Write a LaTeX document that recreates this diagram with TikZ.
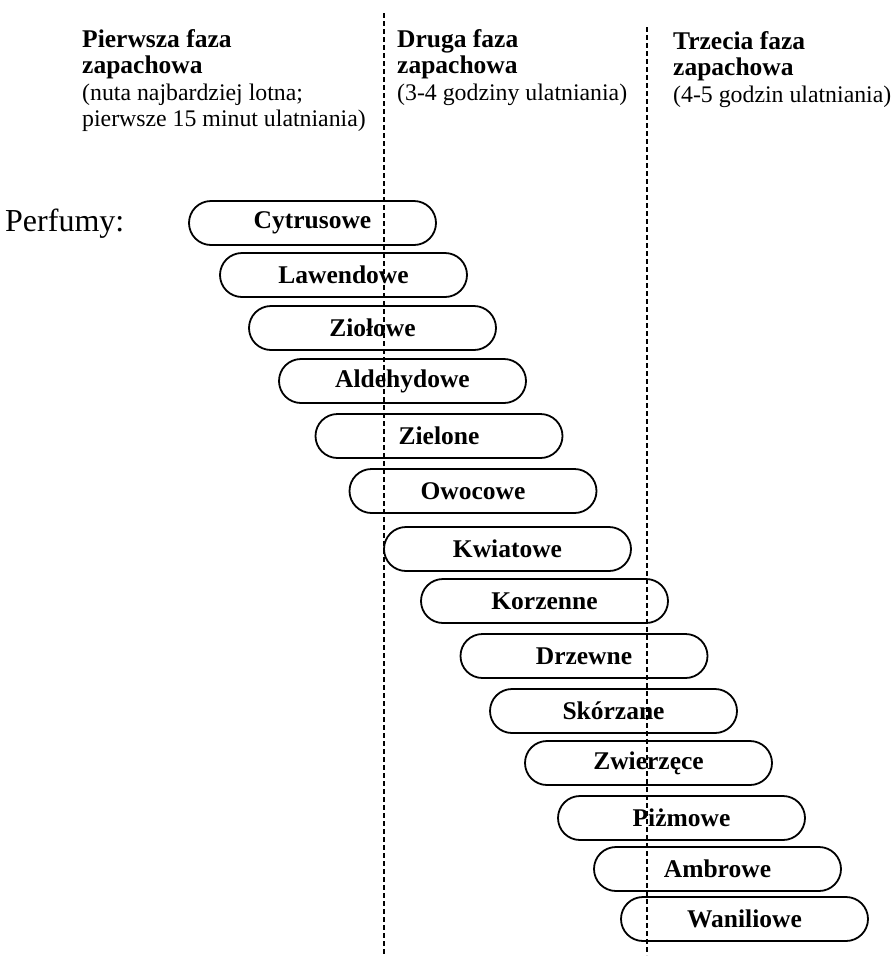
\documentclass[tikz,border=0pt]{standalone}
\usepackage{fontspec}
\setmainfont{Liberation Serif}
\usetikzlibrary{positioning}
\newcommand{\phasetitle}[1]{{\fontsize{25.5}{26.5}\selectfont\bfseries #1}}
\tikzset{
pill/.style={draw, line width=1.8pt, rounded corners=22pt, minimum width=247pt, minimum height=44pt, inner sep=0pt, font=\fontsize{25.5}{27}\selectfont\bfseries}, % the perfume bars
phase/.style={align=left, anchor=north west, inner sep=0pt, font=\fontsize{23.8}{26.5}\selectfont}, % the column headings
border/.style={line width=1.4pt, dash pattern=on 5pt off 3pt}, % the dashed phase borders
}
\begin{document}
\begin{tikzpicture}[x=1pt, y=-1pt]
            \useasboundingbox (0,0) rectangle (893,959);
            % headings
            \node[phase] (ph1) at (82,29) {\phasetitle{Pierwsza faza}\\ \phasetitle{zapachowa}\\ (nuta najbardziej lotna;\\ pierwsze 15 minut ulatniania)};
            \node[phase] (ph2) at (397,29) {\phasetitle{Druga faza}\\ \phasetitle{zapachowa}\\ (3-4 godziny ulatniania)};
            \node[phase] (ph3) at (673,31) {\phasetitle{Trzecia faza}\\ \phasetitle{zapachowa}\\ (4-5 godzin ulatniania)};
            \node[anchor=base west, inner sep=0pt, font=\fontsize{32}{34}\selectfont] (perf) at (5,231) {Perfumy:};
            % borders between the phases
            \coordinate (b1top) at (384,13);
            \coordinate (b1bot) at (384,955);
            \coordinate (b2top) at (647,27);
            \coordinate (b2bot) at (647,955);
            \draw[border] (b1top) -- (b1bot);
            \draw[border] (b2top) -- (b2bot);
            % perfumes
            \node[pill] (cytr) at (312.5,223) {Cytrusowe};
            \node[pill] (lawe) at (343.5,275) {Lawendowe};
            \node[pill] (ziol) at (372.5,328) {Ziołowe};
            \node[pill] (alde) at (402.5,381) {Aldehydowe};
            \node[pill] (ziel) at (439,436) {Zielone};
            \node[pill] (owoc) at (473,491) {Owocowe};
            \node[pill] (kwia) at (507.5,549) {Kwiatowe};
            \node[pill] (korz) at (544.5,601) {Korzenne};
            \node[pill] (drze) at (584,656) {Drzewne};
            \node[pill] (skor) at (613.5,711) {Skórzane};
            \node[pill] (zwie) at (648.5,763) {Zwierzęce};
            \node[pill] (pizm) at (681.5,818) {Piżmowe};
            \node[pill] (ambr) at (717.5,869) {Ambrowe};
            \node[pill] (wani) at (744.5,919) {Waniliowe};
        \end{tikzpicture}
\end{document}
